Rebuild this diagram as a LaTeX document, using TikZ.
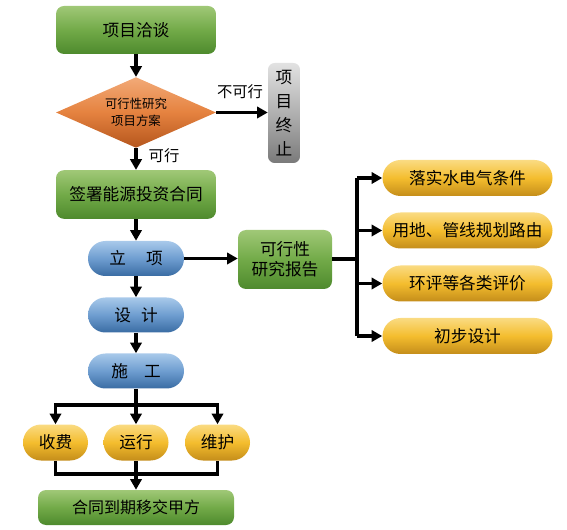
\documentclass[tikz,border=0pt]{standalone}
\usepackage{fontspec}
\setmainfont{Noto Sans CJK SC}
\usetikzlibrary{shapes.geometric,arrows.meta}
\definecolor{gT}{HTML}{A0C877}
\definecolor{gM}{HTML}{72AA48}
\definecolor{gB}{HTML}{4E8A2D}
\definecolor{oT}{HTML}{F2AA78}
\definecolor{oM}{HTML}{E5823F}
\definecolor{oB}{HTML}{B5561D}
\definecolor{bT}{HTML}{A8C9EA}
\definecolor{bM}{HTML}{6E9DD0}
\definecolor{bB}{HTML}{3A6CA3}
\definecolor{yT}{HTML}{FADB82}
\definecolor{yM}{HTML}{F4BD2E}
\definecolor{yB}{HTML}{C48D1A}
\definecolor{hT}{HTML}{E2E2E2}
\definecolor{hM}{HTML}{B0B0B0}
\definecolor{hB}{HTML}{7A7A7A}
\begin{document}
\begin{tikzpicture}[x=0.75pt,y=-0.75pt,
  greenbox/.style={rectangle,rounded corners=6pt,top color=gT,bottom color=gB,middle color=gM,inner sep=0pt,font=\fontsize{12.5}{15}\selectfont,align=center},
  diamondbox/.style={diamond,aspect=2.26,top color=oT,bottom color=oB,middle color=oM,inner sep=0pt,minimum width=120pt,minimum height=53pt,font=\fontsize{9.3}{13}\selectfont,align=center},
  graybox/.style={rectangle,rounded corners=5pt,top color=hT,bottom color=hB,middle color=hM,inner sep=0pt,minimum width=24pt,minimum height=75pt,font=\fontsize{12.5}{18}\selectfont,align=center},
  bluebox/.style={rectangle,rounded corners=13pt,top color=bT,bottom color=bB,middle color=bM,inner sep=0pt,minimum width=72pt,minimum height=26.25pt,font=\fontsize{12.5}{15}\selectfont},
  yellowbox/.style={rectangle,rounded corners=13.5pt,top color=yT,bottom color=yB,middle color=yM,inner sep=0pt,minimum height=27pt,font=\fontsize{12.5}{15}\selectfont},
  conn/.style={line width=2.4pt,black},
  arr/.style={conn,-{Triangle[length=8pt,width=8.5pt]}},
  lbl/.style={font=\fontsize{11.5}{13}\selectfont}
]
\useasboundingbox (0,0) rectangle (567,530);
% left column
\node[greenbox,minimum width=120pt,minimum height=36pt] (qt) at (136,30) {项目洽谈};
\node[diamondbox] (kx) at (136,112.5) {可行性研究\\项目方案};
\node[graybox] (zz) at (284,113) {项\\目\\终\\止};
\node[greenbox,minimum width=120pt,minimum height=36.5pt] (qs) at (136,194.5) {签署能源投资合同};
\node[bluebox] (lx) at (136,258.5) {立\hspace{15pt}项};
\node[bluebox] (sj) at (136,315) {设\hspace{7.5pt}计};
\node[bluebox] (sg) at (136,371) {施\hspace{12pt}工};
\node[yellowbox,minimum width=48.75pt] (sf) at (55.5,442.5) {收费};
\node[yellowbox,minimum width=48.75pt] (yx) at (136,442.5) {运行};
\node[yellowbox,minimum width=48.75pt] (wh) at (217.5,442.5) {维护};
\node[greenbox,minimum width=147pt,minimum height=26.25pt,font=\fontsize{12}{14}\selectfont] (yj) at (136,507.5) {合同到期移交甲方};
% report and right column
\node[greenbox,minimum width=70.5pt,minimum height=44.25pt] (bg) at (285,259.5) {可行性\\研究报告};
\node[yellowbox,minimum width=127.5pt] (r1) at (467.5,178) {落实水电气条件};
\node[yellowbox,minimum width=127.5pt] (r2) at (467.5,230.5) {用地、管线规划路由};
\node[yellowbox,minimum width=127.5pt] (r3) at (467.5,283.5) {环评等各类评价};
\node[yellowbox,minimum width=127.5pt] (r4) at (467.5,336) {初步设计};
% labels
\node[lbl] (bkx) at (240,92) {不可行};
\node[lbl] (kxl) at (164,156) {可行};
% connectors
\draw[arr] (qt.south) -- (kx.north);
\draw[arr] (kx.east) -- (zz.west |- kx.east);
\draw[arr] (kx.south) -- (qs.north);
\draw[arr] (qs.south) -- (lx.north);
\draw[arr] (lx.south) -- (sj.north);
\draw[arr] (sj.south) -- (sg.north);
\draw[arr] (lx.east) -- (bg.west |- lx.east);
\coordinate (trunk) at (357,259);
\draw[conn] (bg.east |- trunk) -- (trunk);
\draw[conn] (357,178) -- (357,336);
\draw[arr] (357,178) -- (r1.west);
\draw[arr] (357,230.5) -- (r2.west);
\draw[arr] (357,283.5) -- (r3.west);
\draw[arr] (357,336) -- (r4.west);
\coordinate (sp) at (136,405);
\draw[conn] (sg.south) -- (sp);
\draw[arr] (sp) -| (sf.north);
\draw[arr] (sp) -| (wh.north);
\draw[arr] (sp) -- (yx.north);
\coordinate (jn) at (136,474);
\draw[conn] (sf.south) |- (jn);
\draw[conn] (wh.south) |- (jn);
\draw[conn] (yx.south) -- (jn);
\draw[arr] (jn) -- (yj.north);
\end{tikzpicture}
\end{document}
